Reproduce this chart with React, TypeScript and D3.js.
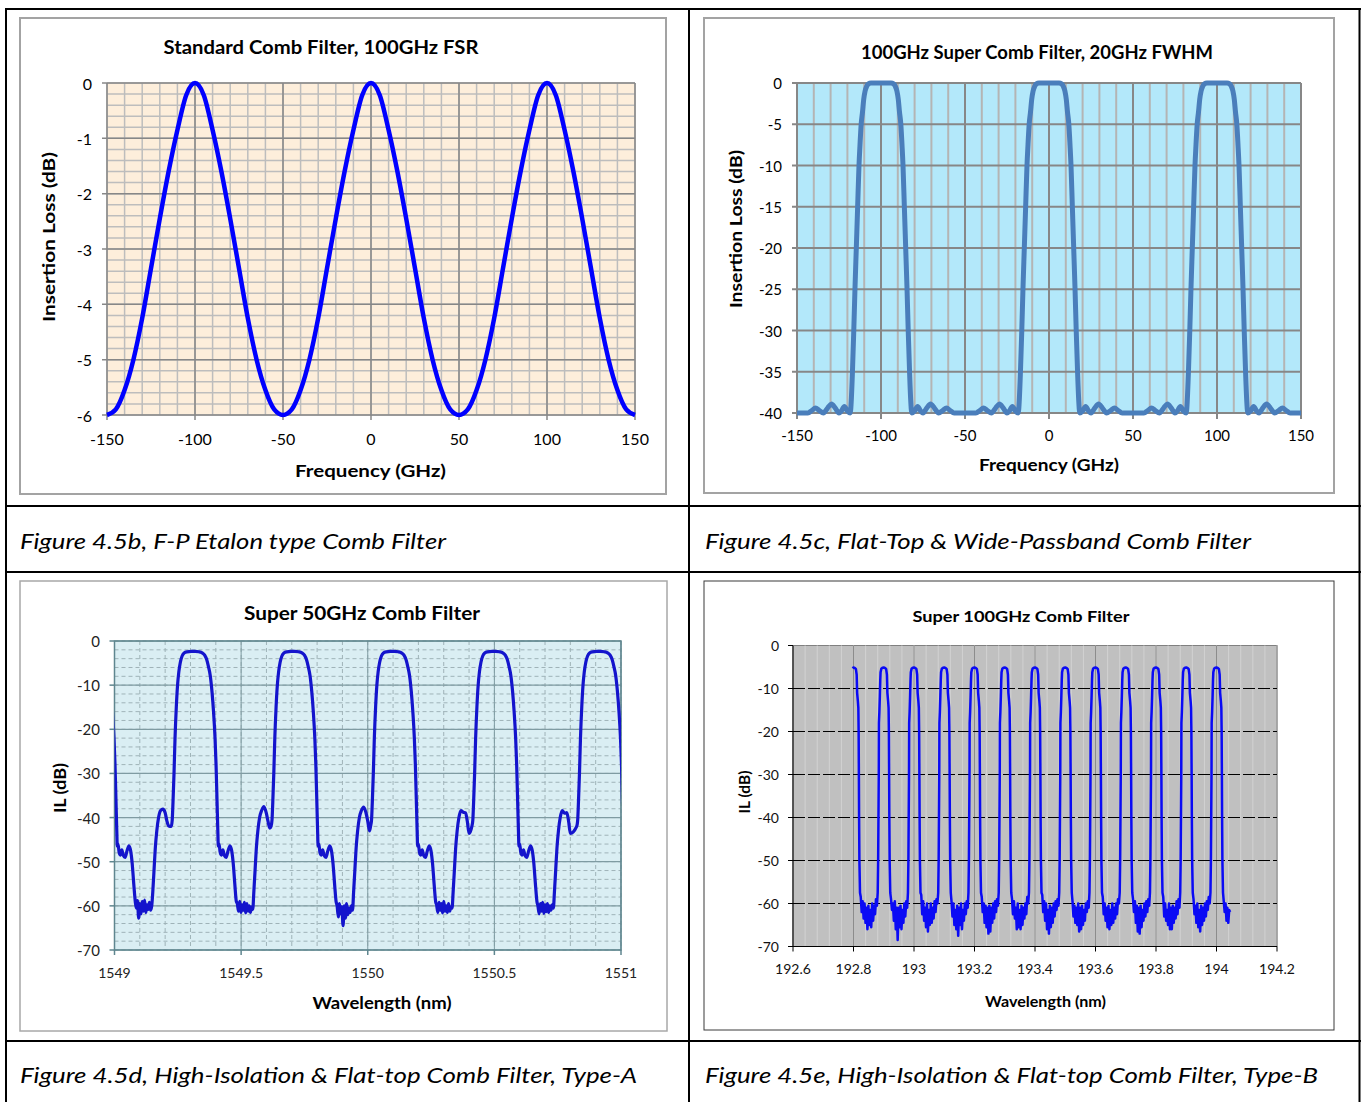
import React from 'react';
import * as d3 from 'd3';

const FONT = "Lato, 'Noto Sans', sans-serif";

// ---------- Figure 4.5b : Standard comb filter ----------
const b_freq = [-150,-145,-140,-135,-130,-125,-120,-115,-110,-105,-100,-95,-90,-85,-80,-75,-70,-65,-60,-55,-50,-45,-40,-35,-30,-25,-20,-15,-10,-5,0,5,10,15,20,25,30,35,40,45,50,55,60,65,70,75,80,85,90,95,100,105,110,115,120,125,130,135,140,145,150];
const b_il = [-6.0,-5.9,-5.55,-5.0,-4.25,-3.35,-2.45,-1.6,-0.85,-0.22,0,-0.22,-0.85,-1.6,-2.45,-3.35,-4.25,-5.0,-5.55,-5.9,-6.0,-5.9,-5.55,-5.0,-4.25,-3.35,-2.45,-1.6,-0.85,-0.22,0,-0.22,-0.85,-1.6,-2.45,-3.35,-4.25,-5.0,-5.55,-5.9,-6.0,-5.9,-5.55,-5.0,-4.25,-3.35,-2.45,-1.6,-0.85,-0.22,0,-0.22,-0.85,-1.6,-2.45,-3.35,-4.25,-5.0,-5.55,-5.9,-6.0];
const b_xTicks = [-150,-100,-50,0,50,100,150];
const b_yTicks = [0,-1,-2,-3,-4,-5,-6];

// ---------- Figure 4.5c : Super comb filter, 20GHz FWHM ----------
const c_centers = [-100, 0, 100];
// half passband + side lobes, [offset GHz, dB]
const c_halfProfile: [number, number][] = [
  [0,0],[6,0],[7.5,-0.1],[8.5,-0.4],[9.5,-1.0],[10.3,-2.0],[11.0,-3.5],[11.8,-5],[12.5,-7.5],[13.1,-10],[13.9,-15],[14.7,-20],[15.5,-25],[16.2,-30],[17.0,-35],[17.7,-38.5],[18.3,-40],
  [20.2,-39.7],[21.8,-39.2],[23.4,-39.7],[25.0,-40],[27.2,-39.4],[29.5,-38.9],[31.8,-39.4],[34.3,-40],[36.7,-39.7],[39.0,-39.4],[41.2,-39.7],[43.5,-40]
];
const c_ends: [number, number][] = [[-150,-40],[150,-40]];
const c_xTicks = [-150,-100,-50,0,50,100,150];
const c_yTicks = [0,-5,-10,-15,-20,-25,-30,-35,-40];

// ---------- Figure 4.5d : Super 50GHz comb filter ----------
const d_centers = [1548.919, 1549.318, 1549.712, 1550.105, 1550.505, 1550.919];
const d_passband: [number, number][] = [
  [-0.094,-42.0],[-0.090,-40.5],[-0.087,-36.5],[-0.083,-30],[-0.079,-22],[-0.074,-15],[-0.069,-10],[-0.064,-7],[-0.058,-4.8],[-0.051,-3.4],[-0.043,-2.7],[-0.032,-2.45],[-0.015,-2.35],[0,-2.35],[0.015,-2.45],[0.028,-2.7],[0.038,-3.2],[0.046,-4.2],[0.053,-5.8],[0.060,-7.8],[0.067,-11.5],[0.073,-16],[0.079,-22],[0.083,-28],[0.087,-36.5],[0.090,-43],[0.092,-46.5],[0.095,-46.0],[0.099,-47.8],[0.104,-48.5],[0.110,-47.3],[0.116,-48.6],[0.123,-49.0],[0.130,-47.6],[0.138,-46.4],[0.145,-47.6],[0.151,-50.5],[0.157,-55],[0.163,-59]
];
const d_floorRange = [0.167, 0.228];
const d_floor = [
  [-60.5,-58.8,-62.8,-59.5,-61.8,-59,-61.2,-58.7,-61.5,-59.8,-60.8,-59.2,-61,-60],
  [-59.5,-61.2,-59,-61.5,-59.8,-61,-59.2,-61.6,-59.5,-61.2,-60,-61.5,-60.2,-60.8],
  [-60,-62.5,-59.5,-61.8,-60.2,-64.5,-60,-62.8,-59.5,-62,-60.5,-61.5,-60,-61],
  [-59.8,-61.5,-59.2,-61,-59.5,-61.6,-59,-61.2,-60,-61.5,-59.5,-61.2,-60.2,-60.5],
  [-60,-61.8,-59.5,-61.2,-59.2,-61.7,-59.8,-61.3,-59.5,-61.5,-60,-61,-59.8,-60.5]
];
const d_preRise: [number, number][] = [
  [0.232,-57],[0.237,-52],[0.242,-47],[0.248,-43],[0.255,-40],[0.263,-38.4],[0.272,-37.9],[0.281,-38.9],[0.288,-40.8],[0.295,-41.9]
];
const d_bumpPeak = [-38.1, -37.5, -37.6, -38.8, -39.0];
const d_dipLevel = [-41.9, -42.4, -43.0, -43.6, -43.6];
const d_xTicks = [1549, 1549.5, 1550, 1550.5, 1551];
const d_yTicks = [0,-10,-20,-30,-40,-50,-60,-70];

// ---------- Figure 4.5e : Super 100GHz comb filter ----------
const e_centers = [192.8,192.9,193.0,193.1,193.2,193.3,193.4,193.5,193.6,193.7,193.8,193.9,194.0];
const e_start: [number, number] = [192.797, -5.3];
const e_end = 194.045;
const e_passband: [number, number][] = [
  [-0.020,-57.5],[-0.0185,-50],[-0.0175,-40],[-0.0165,-30],[-0.016,-18],[-0.0145,-15.5],[-0.013,-12],[-0.0115,-8],[-0.0105,-6.2],[-0.008,-5.4],[-0.004,-5.15],[0,-5.1],[0.004,-5.2],[0.008,-5.5],[0.0105,-6.8],[0.0115,-9.5],[0.012,-11],[0.0145,-13],[0.016,-14.5],[0.017,-20],[0.0178,-30],[0.0185,-40],[0.0195,-50],[0.0215,-57.5]
];
const e_floor = [
  [-58.5,-62,-59.5,-63.5,-60,-64.5,-61,-66,-60.5,-65,-61.5,-65.5,-60,-64,-60.5,-62.5,-59,-60.5],
  [-59,-61.5,-60,-64,-59.5,-66,-61,-68.5,-61,-65.5,-60.5,-66,-61.5,-64.5,-60,-63,-59.5,-61],
  [-58,-62.5,-59.5,-64,-61,-65.5,-60,-66.5,-61.5,-65,-60,-64.5,-61,-63.5,-59.5,-62,-59,-60],
  [-59.5,-63,-60,-65,-61.5,-66,-60.5,-67.5,-61,-65,-60,-66,-61.5,-64,-60,-62.5,-59.5,-61],
  [-58.5,-62,-60,-64.5,-60.5,-65.5,-61,-67,-60.5,-66.5,-61,-64.5,-60,-63.5,-59.5,-62,-59,-60.5],
  [-59,-62.5,-59.5,-63.5,-61,-66,-60,-65.5,-61.5,-66,-60.5,-65,-61,-63.5,-60,-62.5,-58.5,-60],
  [-58,-62,-59.5,-64,-60,-66,-61.5,-67,-60.5,-65.5,-61,-64.5,-60,-63,-59.5,-61.5,-59,-60.5],
  [-59.5,-63,-60.5,-64.5,-61,-65,-60,-66.5,-61,-66,-60.5,-65,-61.5,-64,-60,-62,-59.5,-61],
  [-58.5,-62.5,-60,-64,-61,-65.5,-60.5,-66,-61.5,-65,-60,-64.5,-61,-63.5,-60,-62.5,-59,-60],
  [-59,-62,-59.5,-64.5,-60.5,-66.5,-61,-67,-60.5,-65.5,-61.5,-64,-60,-63,-59.5,-62,-59,-60.5],
  [-58.5,-63,-60,-64,-61.5,-65,-60,-66,-61,-66,-60.5,-64.5,-61,-63.5,-59.5,-62.5,-59,-61],
  [-59,-62.5,-60.5,-64.5,-60,-65.5,-61.5,-66.5,-60.5,-65,-61,-64,-60,-63,-59.5,-61.5,-58.5,-60]
];
const e_tail = [-59.5,-62,-60,-64,-61,-64.5,-61.5,-62];
const e_xTicks = [192.6,192.8,193,193.2,193.4,193.6,193.8,194,194.2];
const e_yTicks = [0,-10,-20,-30,-40,-50,-60,-70];

const captions = [
  'Figure 4.5b, F-P Etalon type Comb Filter',
  'Figure 4.5c, Flat-Top & Wide-Passband Comb Filter',
  'Figure 4.5d, High-Isolation & Flat-top Comb Filter, Type-A',
  'Figure 4.5e, High-Isolation & Flat-top Comb Filter, Type-B'
];

// ---------- series builders ----------
function spread(vals: number[], a: number, b: number): [number, number][] {
  const n = vals.length;
  return vals.map((v, i) => [a + (b - a) * (n === 1 ? 0 : i / (n - 1)), v] as [number, number]);
}

function buildC(): [number, number][] {
  const pts: [number, number][] = [c_ends[0]];
  c_centers.forEach(c => {
    const rest = c_halfProfile.slice(1);
    rest.slice().reverse().forEach(([d, v]) => pts.push([c - d, v]));
    pts.push([c, c_halfProfile[0][1]]);
    rest.forEach(([d, v]) => pts.push([c + d, v]));
  });
  pts.push(c_ends[1]);
  return pts;
}

function buildD(): [number, number][] {
  const pts: [number, number][] = [];
  d_centers.forEach((c, k) => {
    d_passband.forEach(([o, v]) => pts.push([c + o, v]));
    if (k < d_floor.length) {
      spread(d_floor[k], c + d_floorRange[0], c + d_floorRange[1]).forEach(p => pts.push(p));
      d_preRise.forEach(([o, v], i) => {
        let val = v;
        if (i === 6) val = d_bumpPeak[k];
        if (i === d_preRise.length - 1) val = d_dipLevel[k];
        pts.push([c + o, val]);
      });
    }
  });
  return pts;
}

function buildE(): [number, number][] {
  const pts: [number, number][] = [e_start];
  e_centers.forEach((c, k) => {
    e_passband.forEach(([o, v]) => { if (c + o > e_start[0]) pts.push([c + o, v]); });
    const a = c + e_passband[e_passband.length - 1][0] + 0.0025;
    if (k < e_floor.length) {
      const b = e_centers[k + 1] + e_passband[0][0] - 0.0025;
      spread(e_floor[k], a, b).forEach(p => pts.push(p));
    } else {
      spread(e_tail, a, e_end).forEach(p => pts.push(p));
    }
  });
  return pts;
}

const fmt = (v: number) => String(v);

// ---------- Panels ----------
function PanelB() {
  const x = d3.scaleLinear().domain([-150, 150]).range([107, 635]);
  const y = d3.scaleLinear().domain([-6, 0]).range([415, 83]);
  const line = d3.line<number>().x((_, i) => x(b_freq[i])).y(d => y(d)).curve(d3.curveMonotoneX);
  const minorX = d3.range(-150, 151, 10);
  const minorY = d3.range(0, 31).map(i => -i * 0.2);
  return (
    <g>
      <rect x={20} y={18} width={646} height={476} fill="#fff" stroke="#a3a3a3" strokeWidth={2} />
      <text x={321} y={47} textAnchor="middle" dominantBaseline="central" fontFamily={FONT} fontWeight="bold" fontSize={18} textLength={315} lengthAdjust="spacingAndGlyphs">Standard Comb Filter, 100GHz FSR</text>
      <rect x={x(-150)} y={y(0)} width={x(150) - x(-150)} height={y(-6) - y(0)} fill="#fdeedb" />
      {minorX.map(v => <line key={'mx' + v} x1={x(v)} x2={x(v)} y1={y(0)} y2={y(-6)} stroke="#bdbdbd" strokeWidth={1.5} />)}
      {minorY.map(v => <line key={'my' + v} x1={x(-150)} x2={x(150)} y1={y(v)} y2={y(v)} stroke="#bdbdbd" strokeWidth={1.5} />)}
      {b_xTicks.map(v => <line key={'Mx' + v} x1={x(v)} x2={x(v)} y1={y(0)} y2={y(-6) + 5} stroke="#878787" strokeWidth={1.5} />)}
      {b_yTicks.map(v => <line key={'My' + v} x1={x(-150) - 5} x2={x(150)} y1={y(v)} y2={y(v)} stroke="#878787" strokeWidth={1.5} />)}
      <path d={line(b_il) || ''} fill="none" stroke="#0000ff" strokeWidth={4.5} strokeLinejoin="round" />
      {b_yTicks.map(v => <text key={'ty' + v} x={92} y={y(v)} textAnchor="end" dominantBaseline="central" fontFamily={FONT} fontSize={16}>{fmt(v)}</text>)}
      {b_xTicks.map(v => <text key={'tx' + v} x={x(v)} y={438} textAnchor="middle" dominantBaseline="central" fontFamily={FONT} fontSize={16}>{fmt(v)}</text>)}
      <text x={370.5} y={470} textAnchor="middle" dominantBaseline="central" fontFamily={FONT} fontWeight="bold" fontSize={17} textLength={151} lengthAdjust="spacingAndGlyphs">Frequency (GHz)</text>
      <text transform="translate(48,237) rotate(-90)" textAnchor="middle" dominantBaseline="central" fontFamily={FONT} fontWeight="bold" fontSize={17} textLength={170} lengthAdjust="spacingAndGlyphs">Insertion Loss (dB)</text>
    </g>
  );
}

function PanelC() {
  const x = d3.scaleLinear().domain([-150, 150]).range([797, 1301]);
  const y = d3.scaleLinear().domain([-40, 0]).range([413, 83]);
  const pts = buildC();
  const line = d3.line<[number, number]>().x(d => x(d[0])).y(d => y(d[1])).curve(d3.curveMonotoneX);
  const minorX = d3.range(-150, 151, 10);
  return (
    <g>
      <rect x={704} y={18} width={630} height={475} fill="#fff" stroke="#a3a3a3" strokeWidth={2} />
      <text x={1037} y={52} textAnchor="middle" dominantBaseline="central" fontFamily={FONT} fontWeight="bold" fontSize={18} textLength={352} lengthAdjust="spacingAndGlyphs">100GHz Super Comb Filter, 20GHz FWHM</text>
      <rect x={x(-150)} y={y(0)} width={x(150) - x(-150)} height={y(-40) - y(0)} fill="#b3e8fa" />
      {minorX.map(v => <line key={'mx' + v} x1={x(v)} x2={x(v)} y1={y(0)} y2={y(-40)} stroke="#b4b4b4" strokeWidth={2} />)}
      {c_xTicks.map(v => <line key={'Mx' + v} x1={x(v)} x2={x(v)} y1={y(0)} y2={y(-40) + 6} stroke="#878787" strokeWidth={2} />)}
      {c_yTicks.map(v => <line key={'My' + v} x1={x(-150) - 5} x2={x(150)} y1={y(v)} y2={y(v)} stroke="#878787" strokeWidth={2} />)}
      <path d={line(pts) || ''} fill="none" stroke="#4a7ebb" strokeWidth={5} strokeLinejoin="round" />
      {c_yTicks.map(v => <text key={'ty' + v} x={782} y={y(v)} textAnchor="end" dominantBaseline="central" fontFamily={FONT} fontSize={15}>{fmt(v)}</text>)}
      {c_xTicks.map(v => <text key={'tx' + v} x={x(v)} y={435} textAnchor="middle" dominantBaseline="central" fontFamily={FONT} fontSize={15}>{fmt(v)}</text>)}
      <text x={1049} y={464} textAnchor="middle" dominantBaseline="central" fontFamily={FONT} fontWeight="bold" fontSize={17} textLength={140} lengthAdjust="spacingAndGlyphs">Frequency (GHz)</text>
      <text transform="translate(735,229) rotate(-90)" textAnchor="middle" dominantBaseline="central" fontFamily={FONT} fontWeight="bold" fontSize={17} textLength={158} lengthAdjust="spacingAndGlyphs">Insertion Loss (dB)</text>
    </g>
  );
}

function PanelD() {
  const x = d3.scaleLinear().domain([1549, 1551]).range([114.5, 621]);
  const y = d3.scaleLinear().domain([-70, 0]).range([950, 641]);
  const pts = buildD();
  const line = d3.line<[number, number]>().x(d => x(d[0])).y(d => y(d[1])).curve(d3.curveMonotoneX);
  const minorX = d3.range(0, 21).map(i => 1549 + i * 0.1);
  const minorY = d3.range(0, 36).map(i => -i * 2);
  const majY = d_yTicks;
  return (
    <g>
      <defs>
        <clipPath id="clipD"><rect x={x(1549)} y={600} width={x(1551) - x(1549)} height={400} /></clipPath>
      </defs>
      <rect x={20} y={581} width={647} height={450} fill="#fff" stroke="#a8a8a8" strokeWidth={1.5} />
      <text x={362} y={612.5} textAnchor="middle" dominantBaseline="central" fontFamily={FONT} fontWeight="bold" fontSize={19} textLength={236} lengthAdjust="spacingAndGlyphs">Super 50GHz Comb Filter</text>
      <rect x={x(1549)} y={y(0)} width={x(1551) - x(1549)} height={y(-70) - y(0)} fill="#daeef3" />
      {minorX.map((v, i) => <line key={'mx' + i} x1={x(v)} x2={x(v)} y1={y(0)} y2={y(-70)} stroke="#9fb3b8" strokeWidth={1} strokeDasharray="4,3" />)}
      {minorY.map((v, i) => <line key={'my' + i} x1={x(1549)} x2={x(1551)} y1={y(v)} y2={y(v)} stroke="#9fb3b8" strokeWidth={1} strokeDasharray="4,3" />)}
      {d_xTicks.map(v => <line key={'Mx' + v} x1={x(v)} x2={x(v)} y1={y(0)} y2={y(-70)} stroke="#7f9ba2" strokeWidth={1} />)}
      {majY.map(v => <line key={'My' + v} x1={x(1549)} x2={x(1551)} y1={y(v)} y2={y(v)} stroke="#7f9ba2" strokeWidth={1.2} />)}
      <rect x={x(1549)} y={y(0)} width={x(1551) - x(1549)} height={y(-70) - y(0)} fill="none" stroke="#5f868f" strokeWidth={1.5} />
      {majY.map(v => <line key={'ty' + v} x1={x(1549) - 5} x2={x(1549)} y1={y(v)} y2={y(v)} stroke="#5f868f" strokeWidth={1.5} />)}
      {d_xTicks.map(v => <line key={'tx' + v} x1={x(v)} x2={x(v)} y1={y(-70)} y2={y(-70) + 5} stroke="#5f868f" strokeWidth={1.5} />)}
      <path d={line(pts) || ''} fill="none" stroke="#1414cc" strokeWidth={3.2} strokeLinejoin="round" clipPath="url(#clipD)" />
      {d_yTicks.map(v => <text key={'ly' + v} x={100} y={y(v)} textAnchor="end" dominantBaseline="central" fontFamily={FONT} fontSize={15} fill="#222">{fmt(v)}</text>)}
      {d_xTicks.map(v => <text key={'lx' + v} x={x(v)} y={972} textAnchor="middle" dominantBaseline="central" fontFamily={FONT} fontSize={14} fill="#222">{String(v)}</text>)}
      <text x={382} y={1002} textAnchor="middle" dominantBaseline="central" fontFamily={FONT} fontWeight="bold" fontSize={17} textLength={139} lengthAdjust="spacingAndGlyphs">Wavelength (nm)</text>
      <text transform="translate(59.5,788) rotate(-90)" textAnchor="middle" dominantBaseline="central" fontFamily={FONT} fontWeight="bold" fontSize={17} textLength={50} lengthAdjust="spacingAndGlyphs">IL (dB)</text>
    </g>
  );
}

function PanelE() {
  const x = d3.scaleLinear().domain([192.6, 194.2]).range([793, 1277]);
  const y = d3.scaleLinear().domain([-70, 0]).range([946.5, 645.5]);
  const pts = buildE();
  const line = d3.line<[number, number]>().x(d => x(d[0])).y(d => y(d[1]));
  const minorX = d3.range(0, 41).map(i => 192.6 + i * 0.04);
  return (
    <g>
      <rect x={704} y={581} width={630} height={449} fill="#fff" stroke="#3a3a3a" strokeWidth={1} />
      <text x={1021} y={615.5} textAnchor="middle" dominantBaseline="central" fontFamily={FONT} fontWeight="bold" fontSize={16} textLength={217} lengthAdjust="spacingAndGlyphs">Super 100GHz Comb Filter</text>
      <rect x={x(192.6)} y={y(0)} width={x(194.2) - x(192.6)} height={y(-70) - y(0)} fill="#c0c0c0" stroke="#808080" strokeWidth={1} />
      {minorX.map((v, i) => <line key={'mx' + i} x1={x(v)} x2={x(v)} y1={y(0)} y2={y(-70)} stroke="#d2d2d2" strokeWidth={1} />)}
      {e_xTicks.map(v => <line key={'Mx' + v} x1={x(v)} x2={x(v)} y1={y(0)} y2={y(-70)} stroke="#8c8c8c" strokeWidth={1} />)}
      {e_yTicks.filter(v => v !== 0 && v !== -70).map(v => <line key={'My' + v} x1={x(192.6)} x2={x(194.2)} y1={y(v)} y2={y(v)} stroke="#000" strokeWidth={1} strokeDasharray="12,3" />)}
      <line x1={x(192.6)} x2={x(192.6)} y1={y(0)} y2={y(-70)} stroke="#000" strokeWidth={1} />
      <line x1={x(192.6)} x2={x(194.2)} y1={y(-70)} y2={y(-70)} stroke="#000" strokeWidth={1} />
      {e_yTicks.map(v => <line key={'ty' + v} x1={x(192.6) - 5} x2={x(192.6)} y1={y(v)} y2={y(v)} stroke="#000" strokeWidth={1} />)}
      {e_xTicks.map(v => <line key={'tx' + v} x1={x(v)} x2={x(v)} y1={y(-70)} y2={y(-70) + 5} stroke="#000" strokeWidth={1} />)}
      <path d={line(pts) || ''} fill="none" stroke="#0a0af5" strokeWidth={2.5} strokeLinejoin="round" />
      {e_yTicks.map(v => <text key={'ly' + v} x={779} y={y(v)} textAnchor="end" dominantBaseline="central" fontFamily={FONT} fontSize={14} fill="#111">{fmt(v)}</text>)}
      {e_xTicks.map(v => <text key={'lx' + v} x={x(v)} y={968} textAnchor="middle" dominantBaseline="central" fontFamily={FONT} fontSize={14} fill="#111">{String(v)}</text>)}
      <text x={1045.5} y={1001} textAnchor="middle" dominantBaseline="central" fontFamily={FONT} fontWeight="bold" fontSize={15} textLength={121} lengthAdjust="spacingAndGlyphs">Wavelength (nm)</text>
      <text transform="translate(743.5,792) rotate(-90)" textAnchor="middle" dominantBaseline="central" fontFamily={FONT} fontWeight="bold" fontSize={15} textLength={43} lengthAdjust="spacingAndGlyphs">IL (dB)</text>
    </g>
  );
}

export default function App() {
  const capStyle = { fontFamily: FONT, fontStyle: 'italic' as const, fontSize: 22 };
  return (
    <svg width={1361} height={1102} style={{ position: 'absolute', left: 0, top: 0, background: '#fff' }}>
      <rect x={0} y={0} width={1361} height={1102} fill="#fff" />
      <PanelB />
      <PanelC />
      <PanelD />
      <PanelE />
      <text x={20} y={549} {...capStyle} textLength={426} lengthAdjust="spacingAndGlyphs">{captions[0]}</text>
      <text x={705} y={549} {...capStyle} textLength={546} lengthAdjust="spacingAndGlyphs">{captions[1]}</text>
      <text x={20} y={1083} {...capStyle} textLength={617} lengthAdjust="spacingAndGlyphs">{captions[2]}</text>
      <text x={705} y={1083} {...capStyle} textLength={613} lengthAdjust="spacingAndGlyphs">{captions[3]}</text>
      <line x1={5} x2={1361} y1={9} y2={9} stroke="#000" strokeWidth={2} />
      <line x1={5} x2={1361} y1={506} y2={506} stroke="#000" strokeWidth={2} />
      <line x1={5} x2={1361} y1={572} y2={572} stroke="#000" strokeWidth={2} />
      <line x1={5} x2={1361} y1={1041} y2={1041} stroke="#000" strokeWidth={2} />
      <line x1={6} x2={6} y1={8} y2={1102} stroke="#000" strokeWidth={2} />
      <line x1={689} x2={689} y1={8} y2={1102} stroke="#000" strokeWidth={2} />
      <line x1={1359.5} x2={1359.5} y1={8} y2={1102} stroke="#000" strokeWidth={2} />
    </svg>
  );
}
